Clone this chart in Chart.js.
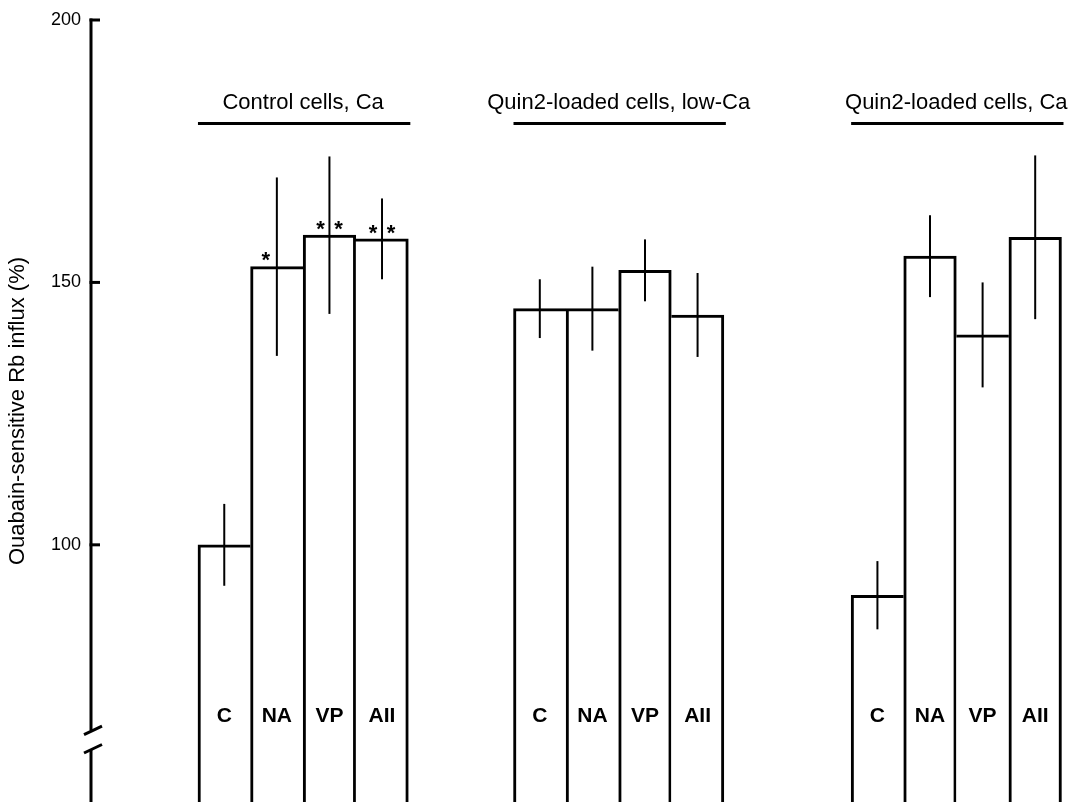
<!DOCTYPE html>
<html>
<head>
<meta charset="utf-8">
<script src="https://cdn.jsdelivr.net/npm/chart.js@4"></script>
<style>
  html, body { margin: 0; padding: 0; background: #fff; }
  canvas { display: block; }
</style>
</head>
<body>
<canvas id="chart" width="1082" height="802"></canvas>
<script>
// Ouabain-sensitive Rb influx (% of control) for three cell preparations
const groupTitles = ['Control cells, Ca', 'Quin2-loaded cells, low-Ca', 'Quin2-loaded cells, Ca'];
const treatments = ['C', 'NA', 'VP', 'AII'];

const controlCa      = [100, 153, 159, 158.3];
const controlCaErr   = [7.8, 17, 15, 7.7];
const controlCaStars = ['', '*', '**', '**'];

const quinLowCa      = [145, 145, 152.3, 143.8];
const quinLowCaErr   = [5.6, 8, 5.9, 8];
const quinLowCaStars = ['', '', '', ''];

const quinCa         = [90.4, 155, 140, 158.6];
const quinCaErr      = [6.5, 7.8, 10, 15.6];
const quinCaStars    = ['', '', '', ''];

const yTicks = [100, 150, 200];

// Layout: slot of each group's first bar (one slot = one bar width)
const GROUP_START = [0, 6, 12.42];
const X_MIN = -2.534, X_MAX = 16.31;
const Y_MIN = 51, Y_MAX = 200;
const BREAK_HIGH = 64.6, BREAK_LOW = 61.1;   // gap in the value axis
const FONT = "'Liberation Sans', Arial, Helvetica, sans-serif";
const EDGE = 3;

const groups = [
  { title: groupTitles[0], values: controlCa, err: controlCaErr, stars: controlCaStars },
  { title: groupTitles[1], values: quinLowCa, err: quinLowCaErr, stars: quinLowCaStars },
  { title: groupTitles[2], values: quinCa,    err: quinCaErr,    stars: quinCaStars }
];

// Shared walls between neighbouring bars are drawn once, by the taller bar
function edgeWidths(values, i) {
  const left  = (i === 0 || values[i - 1] <= values[i]) ? EDGE : 0;
  const right = (i === values.length - 1 || values[i + 1] < values[i]) ? EDGE : 0;
  return { top: EDGE, left: left, right: right, bottom: 0 };
}

const datasets = groups.map((g, gi) => ({
  label: g.title,
  data: g.values.map((v, i) => ({ x: GROUP_START[gi] + i, y: v })),
  backgroundColor: '#fff',
  borderColor: '#000',
  borderSkipped: false,
  borderWidth: ctx => edgeWidths(g.values, ctx.dataIndex),
  grouped: false,
  barPercentage: 1,
  categoryPercentage: 1
}));

const slotPositions = [];
groups.forEach((g, gi) => g.values.forEach((v, i) => slotPositions.push(GROUP_START[gi] + i)));

// Value axis with break marks, error bars, significance stars, captions
const decorations = {
  id: 'decorations',
  beforeDatasetsDraw(chart) {
    const { ctx } = chart;
    const y = chart.scales.y;
    const ax = y.right;
    ctx.save();
    ctx.strokeStyle = '#000';
    ctx.lineWidth = 3;
    ctx.lineCap = 'butt';
    ctx.beginPath();
    ctx.moveTo(ax, y.getPixelForValue(Y_MAX) - 1.5);
    ctx.lineTo(ax, y.getPixelForValue(BREAK_HIGH));
    ctx.moveTo(ax, y.getPixelForValue(BREAK_LOW));
    ctx.lineTo(ax, chart.chartArea.bottom);
    ctx.stroke();
    // tick marks point into the plot
    yTicks.forEach(t => {
      const py = y.getPixelForValue(t);
      ctx.beginPath();
      ctx.moveTo(ax - 1.5, py);
      ctx.lineTo(ax + 9, py);
      ctx.stroke();
    });
    // break slashes
    [BREAK_HIGH, BREAK_LOW].forEach(v => {
      const py = y.getPixelForValue(v);
      ctx.beginPath();
      ctx.moveTo(ax - 7, py + 4);
      ctx.lineTo(ax + 11, py - 4.5);
      ctx.stroke();
    });
    ctx.restore();
  },
  afterDatasetsDraw(chart) {
    const { ctx } = chart;
    const y = chart.scales.y;
    ctx.save();
    ctx.strokeStyle = '#000';
    ctx.fillStyle = '#000';
    groups.forEach((g, gi) => {
      const bars = chart.getDatasetMeta(gi).data;
      // error bars
      ctx.lineWidth = 2;
      g.values.forEach((v, i) => {
        const px = bars[i].x;
        ctx.beginPath();
        ctx.moveTo(px, y.getPixelForValue(v + g.err[i]));
        ctx.lineTo(px, y.getPixelForValue(v - g.err[i]));
        ctx.stroke();
      });
      // significance stars
      ctx.font = 'bold 22px ' + FONT;
      ctx.textAlign = 'center';
      ctx.textBaseline = 'alphabetic';
      g.stars.forEach((s, i) => {
        if (!s) return;
        const px = bars[i].x;
        const base = bars[i].y - 12 + 0.58 * 22;
        if (s.length === 1) {
          ctx.fillText('*', px - 11, base);
        } else {
          ctx.fillText('*', px - 9, base);
          ctx.fillText('*', px + 9, base);
        }
      });
      // treatment captions inside the bars
      ctx.font = 'bold 21px ' + FONT;
      treatments.forEach((t, i) => {
        ctx.fillText(t, bars[i].x, 722);
      });
      // group title with underline
      const half = bars[0].width / 2;
      const left = bars[0].x - half;
      const right = bars[bars.length - 1].x + half;
      ctx.font = '22px ' + FONT;
      ctx.fillText(g.title, (left + right) / 2, 109);
      ctx.lineWidth = 3;
      ctx.beginPath();
      ctx.moveTo(left, 123.5);
      ctx.lineTo(right + 2, 123.5);
      ctx.stroke();
    });
    ctx.restore();
  }
};

new Chart(document.getElementById('chart'), {
  type: 'bar',
  data: { datasets: datasets },
  options: {
    responsive: false,
    animation: false,
    layout: { padding: { top: 20, right: 0, bottom: 0, left: 0 } },
    plugins: { legend: { display: false }, tooltip: { enabled: false } },
    scales: {
      x: {
        type: 'linear',
        display: false,
        offset: false,
        min: X_MIN,
        max: X_MAX,
        afterBuildTicks: s => { s.ticks = slotPositions.map(v => ({ value: v })); }
      },
      y: {
        min: Y_MIN,
        max: Y_MAX,
        afterBuildTicks: s => { s.ticks = yTicks.map(v => ({ value: v })); },
        afterFit: s => { s.width = 91; s.paddingTop = 0; s.paddingBottom = 0; },
        grid: { display: false, drawTicks: false },
        border: { display: false },
        ticks: { color: '#000', font: { family: FONT, size: 18 }, padding: 10 },
        title: {
          display: true,
          text: 'Ouabain-sensitive Rb influx (%)',
          color: '#000',
          font: { family: FONT, size: 22 },
          padding: { top: 5, bottom: 0 }
        }
      }
    }
  },
  plugins: [decorations]
});
</script>
</body>
</html>
